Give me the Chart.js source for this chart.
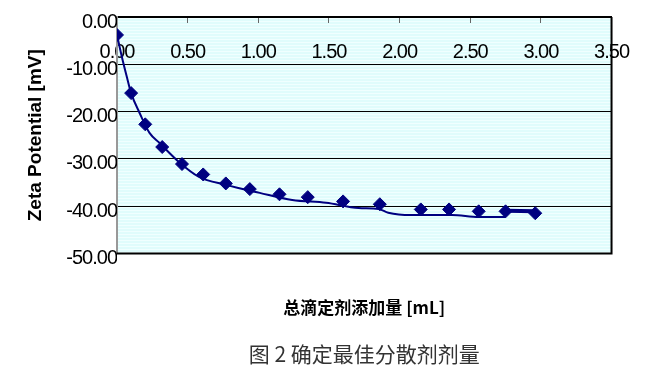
<!DOCTYPE html>
<html>
<head>
<meta charset="utf-8">
<script src="https://cdn.jsdelivr.net/npm/chart.js@4"></script>
<style>
  body { margin: 0; background: #fff; }
  canvas { display: block; }
</style>
</head>
<body>
<canvas id="myChart" width="649" height="384"></canvas>
<script>
// measured points (diamonds)
const doseMl = [0, 0.10, 0.20, 0.32, 0.46, 0.61, 0.77, 0.94, 1.15, 1.35, 1.60, 1.86, 2.15, 2.35, 2.56, 2.75, 2.96];
const zetaMv = [-3.8, -16.1, -22.7, -27.5, -31.1, -33.3, -35.2, -36.4, -37.5, -38.1, -39.0, -39.6, -40.7, -40.7, -41.1, -41.1, -41.5];

// trend curve under the points
const trendX = [0, 0.035, 0.07, 0.10, 0.16, 0.23, 0.30, 0.44, 0.58, 0.77, 1.01, 1.24, 1.48, 1.71, 1.85, 1.92, 2.08, 2.37, 2.56, 2.75];
const trendY = [-3.8, -8.5, -12.7, -16.1, -20.3, -24.5, -26.6, -30.7, -33.8, -35.5, -37.2, -38.7, -39.3, -40.4, -40.6, -41.4, -41.9, -41.9, -42.3, -42.3];

// thick last segment
const tailX = [2.75, 2.96];
const tailY = [-41.0, -41.1];

const xTitle = '总滴定剂添加量 [mL]';
const yTitle = 'Zeta Potential [mV]';
const caption = '图 2 确定最佳分散剂剂量';

const pairs = (xs, ys) => xs.map((x, i) => ({x: x, y: ys[i]}));

const navy = '#000080';
const tickFont = {family: '"Liberation Sans", Arial, sans-serif', size: 20};

// linear scale whose tick labels are drawn a bit tighter, like the excel export
class TightLinear extends Chart.LinearScale {
    drawLabels(area) {
        const ctx = this.ctx;
        const prev = ctx.letterSpacing;
        ctx.letterSpacing = '-1px';
        super.drawLabels(area);
        ctx.letterSpacing = prev;
    }
}
TightLinear.id = 'tightLinear';
TightLinear.defaults = Chart.LinearScale.defaults;
Chart.register(TightLinear);

const plotFrame = {
    id: 'plotFrame',
    beforeDraw(chart) {
        const {ctx, chartArea: a} = chart;
        ctx.save();
        ctx.fillStyle = '#E0FCFC';
        ctx.fillRect(a.left, a.top, a.right - a.left, a.bottom - a.top);
        ctx.strokeStyle = '#F0FFFF';
        ctx.lineWidth = 1;
        for (let y = a.top + 1.5; y < a.bottom; y += 3) {
            ctx.beginPath();
            ctx.moveTo(a.left, y);
            ctx.lineTo(a.right, y);
            ctx.stroke();
        }
        ctx.restore();
    },
    afterDatasetsDraw(chart) {
        const {ctx, chartArea: a} = chart;
        ctx.save();
        ctx.strokeStyle = '#000';
        ctx.lineWidth = 2;
        ctx.beginPath();
        ctx.moveTo(a.left, a.bottom);
        ctx.lineTo(a.right, a.bottom);
        ctx.lineTo(a.right, a.top);
        ctx.stroke();
        ctx.restore();
    }
};

Chart.defaults.font.family = '"Liberation Sans", Arial, sans-serif';
Chart.defaults.color = '#000';

const config = {
    type: 'scatter',
    data: {
        datasets: [
            {
                label: 'points',
                data: pairs(doseMl, zetaMv),
                pointStyle: 'rectRot',
                pointRadius: 6.5,
                backgroundColor: navy,
                borderColor: navy,
                borderWidth: 1,
                showLine: false,
            },
            {
                label: 'tail',
                data: pairs(tailX, tailY),
                showLine: true,
                borderColor: navy,
                borderWidth: 4,
                pointRadius: 0,
            },
            {
                label: 'trend',
                data: pairs(trendX, trendY),
                showLine: true,
                borderColor: navy,
                borderWidth: 2,
                pointRadius: 0,
                cubicInterpolationMode: 'monotone',
            },
        ]
    },
    options: {
        responsive: false,
        animation: false,
        layout: {
            padding: {left: 0, top: 17, right: 35, bottom: 17}
        },
        plugins: {
            legend: {display: false},
            tooltip: {enabled: false},
            subtitle: {
                display: true,
                position: 'bottom',
                fullSize: false,
                text: xTitle,
                color: '#000',
                font: {family: '"Noto Sans CJK SC", sans-serif', size: 17, weight: 'bold', lineHeight: 1.2},
                padding: {top: 44, bottom: 0}
            },
            title: {
                display: true,
                position: 'bottom',
                fullSize: false,
                text: caption,
                color: '#333',
                font: {family: '"Noto Sans CJK SC", sans-serif', size: 21, weight: 'normal', lineHeight: 1.2},
                padding: {top: 24, bottom: 0}
            }
        },
        scales: {
            x: {
                type: 'tightLinear',
                position: {y: 0},
                min: 0,
                max: 3.5,
                grid: {
                    display: true,
                    drawOnChartArea: false,
                    drawTicks: true,
                    tickLength: 5,
                    color: '#666',
                },
                border: {display: true, color: '#000', width: 2},
                ticks: {
                    stepSize: 0.5,
                    padding: 18,
                    font: tickFont,
                    color: '#000',
                    callback: v => v.toFixed(2)
                }
            },
            y: {
                type: 'tightLinear',
                min: -50,
                max: 0,
                afterFit: scale => { scale.width = 117; },
                grid: {
                    color: '#000',
                    lineWidth: 1,
                    drawTicks: false,
                },
                border: {display: true, color: '#999', width: 2},
                ticks: {
                    stepSize: 10,
                    padding: 0,
                    labelOffset: 5,
                    font: tickFont,
                    color: '#000',
                    callback: v => v.toFixed(2)
                },
                title: {
                    display: true,
                    text: yTitle,
                    color: '#000',
                    font: {size: 19, weight: 'bold', lineHeight: 1.2},
                    padding: {top: 24, bottom: 0}
                }
            }
        }
    },
    plugins: [plotFrame]
};

const myChart = new Chart(document.getElementById('myChart'), config);
</script>
</body>
</html>
